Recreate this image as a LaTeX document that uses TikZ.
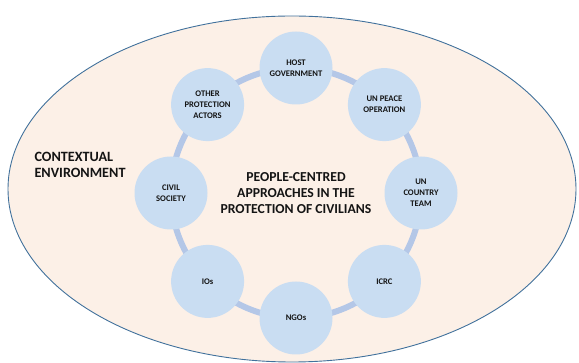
\documentclass[tikz,border=0pt]{standalone}
\usepackage{fontspec}
\setmainfont{Carlito}
\definecolor{envfill}{HTML}{FCF0E7}
\definecolor{envline}{HTML}{41719C}
\definecolor{actorfill}{HTML}{C9DDF2}
\definecolor{ringcol}{HTML}{B4C7E7}
\definecolor{txt}{HTML}{141414}
\begin{document}
\begin{tikzpicture}[x=1pt,y=-1pt,
  env/.style={draw=envline,line width=0.9pt,fill=envfill},
  ringline/.style={draw=ringcol,line width=6pt},
  actor/.style={circle,fill=actorfill,minimum size=73pt,inner sep=0pt,align=center,text=txt,
    font=\bfseries\fontsize{8.6}{10.9}\selectfont},
  bigtext/.style={align=center,text=txt,font=\bfseries\fontsize{13.7}{15.7}\selectfont},
  envtext/.style={align=left,text=txt,anchor=west,font=\bfseries\fontsize{14.2}{16}\selectfont}]
\useasboundingbox (0,0) rectangle (579,363);
\coordinate (e) at (292,189);
\coordinate (c) at (296,193);
\draw[env] (e) ellipse[x radius=284pt,y radius=173pt];
\draw[ringline] (c) circle[radius=125pt];
\node[actor] (host) at (296,68) {HOST\\GOVERNMENT};
\node[actor] (unpeace) at (384.4,104.6) {UN PEACE\\OPERATION};
\node[actor] (unct) at (421,193) {UN\\COUNTRY\\TEAM};
\node[actor] (icrc) at (384.4,281.4) {ICRC};
\node[actor] (ngos) at (296,318) {NGOs};
\node[actor] (ios) at (207.6,281.4) {IOs};
\node[actor] (civil) at (171,193) {CIVIL\\SOCIETY};
\node[actor] (other) at (207.6,104.6) {OTHER\\PROTECTION\\ACTORS};
\node[bigtext] (centre) at (c) {PEOPLE-CENTRED\\APPROACHES IN THE\\PROTECTION OF CIVILIANS};
\node[envtext] (context) at (31,165) {CONTEXTUAL\\ENVIRONMENT};
\end{tikzpicture}
\end{document}
